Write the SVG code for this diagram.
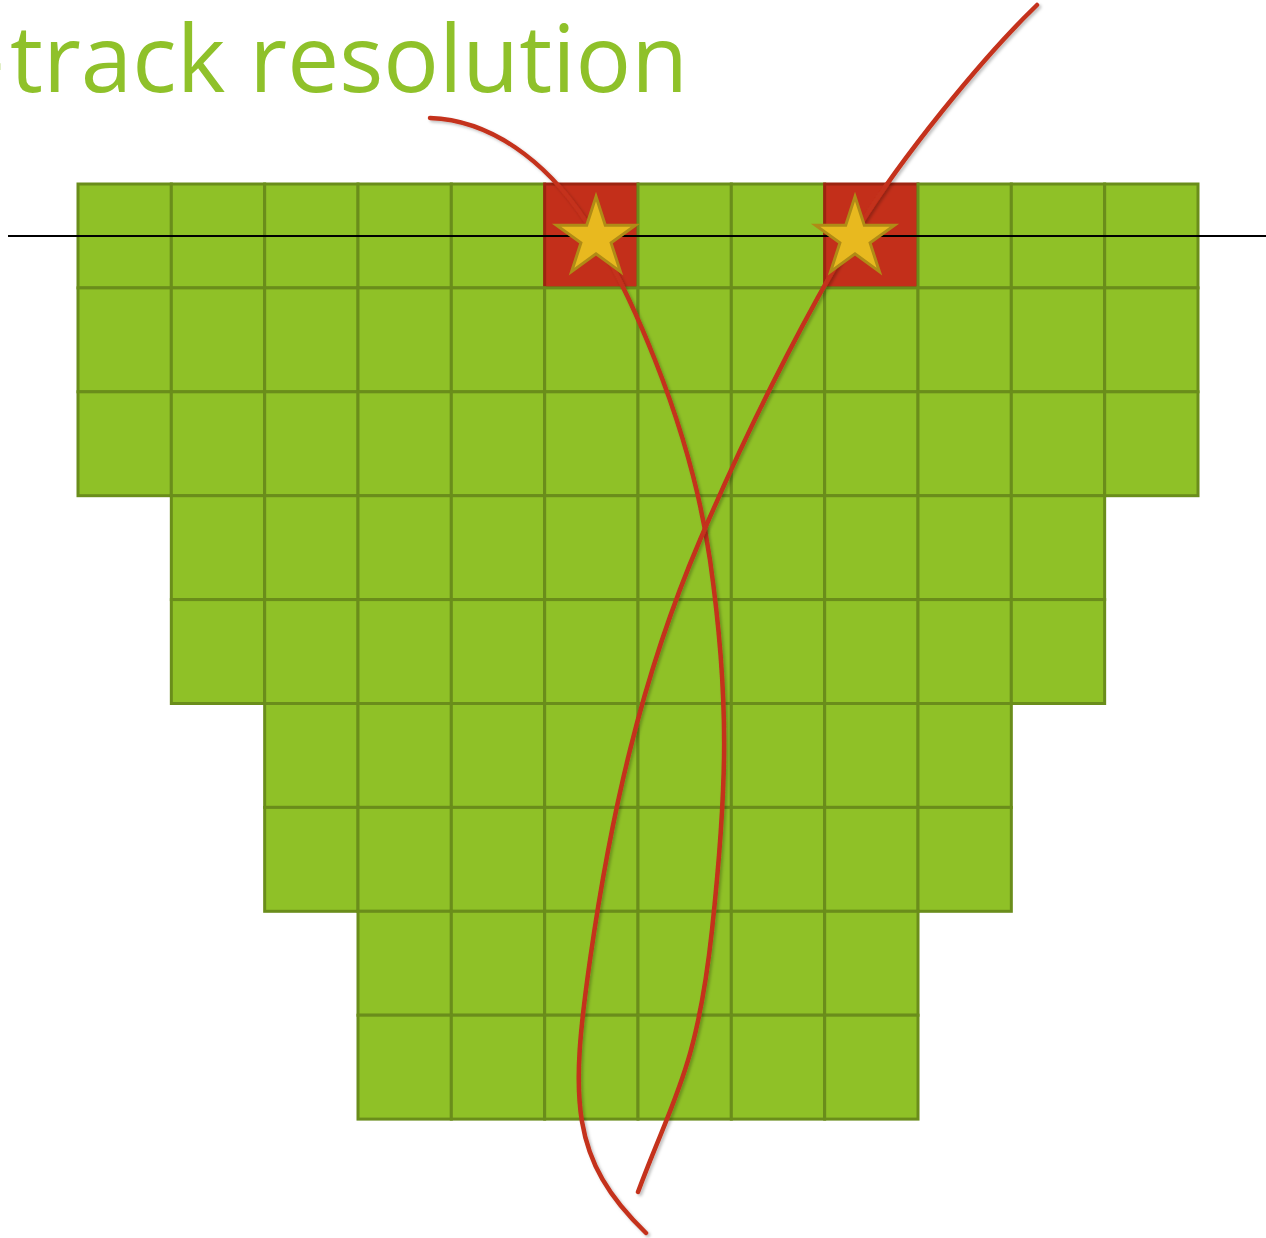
<svg xmlns="http://www.w3.org/2000/svg" width="1266" height="1238" viewBox="0 0 1266 1238">
<style>
.c{fill:#8fc127;stroke:#6a8d1b;stroke-width:3}
.r{fill:#c32f1a;stroke:#9c2410;stroke-width:3}
.t{font-family:"Open Sans","Liberation Sans",sans-serif;font-size:93px;fill:#8fc12a}
.trk{fill:none;stroke:#c4301b;stroke-width:4.5;stroke-linecap:round;filter:url(#sh)}
.st{fill:#e8b91f;stroke:#b08b16;stroke-width:3;stroke-linejoin:miter}
</style>
<defs>
<filter id="sh" x="-10%" y="-10%" width="120%" height="120%">
<feDropShadow dx="2" dy="2" stdDeviation="1.5" flood-color="#000" flood-opacity="0.25"/>
</filter>
<polygon id="star" points="0,-41.5 9.3,-12.8 39.5,-12.8 15.1,4.9 24.4,33.6 0,15.8 -24.4,33.6 -15.1,4.9 -39.5,-12.8 -9.3,-12.8"/>
</defs>
<g id="title">
<text class="t" x="-26" y="92">-</text>
<text class="t" x="10" y="92" textLength="678" lengthAdjust="spacingAndGlyphs">track resolution</text>
</g>
<g id="grid">
<g id="row0">
<rect class="c" x="78" y="184" width="93.33" height="103.9"/>
<rect class="c" x="171.33" y="184" width="93.33" height="103.9"/>
<rect class="c" x="264.67" y="184" width="93.33" height="103.9"/>
<rect class="c" x="358" y="184" width="93.33" height="103.9"/>
<rect class="c" x="451.33" y="184" width="93.33" height="103.9"/>
<rect class="r" x="544.67" y="184" width="93.33" height="103.9"/>
<rect class="c" x="638" y="184" width="93.33" height="103.9"/>
<rect class="c" x="731.33" y="184" width="93.33" height="103.9"/>
<rect class="r" x="824.67" y="184" width="93.33" height="103.9"/>
<rect class="c" x="918" y="184" width="93.33" height="103.9"/>
<rect class="c" x="1011.33" y="184" width="93.33" height="103.9"/>
<rect class="c" x="1104.67" y="184" width="93.33" height="103.9"/>
</g>
<g id="row1">
<rect class="c" x="78" y="287.9" width="93.33" height="103.9"/>
<rect class="c" x="171.33" y="287.9" width="93.33" height="103.9"/>
<rect class="c" x="264.67" y="287.9" width="93.33" height="103.9"/>
<rect class="c" x="358" y="287.9" width="93.33" height="103.9"/>
<rect class="c" x="451.33" y="287.9" width="93.33" height="103.9"/>
<rect class="c" x="544.67" y="287.9" width="93.33" height="103.9"/>
<rect class="c" x="638" y="287.9" width="93.33" height="103.9"/>
<rect class="c" x="731.33" y="287.9" width="93.33" height="103.9"/>
<rect class="c" x="824.67" y="287.9" width="93.33" height="103.9"/>
<rect class="c" x="918" y="287.9" width="93.33" height="103.9"/>
<rect class="c" x="1011.33" y="287.9" width="93.33" height="103.9"/>
<rect class="c" x="1104.67" y="287.9" width="93.33" height="103.9"/>
</g>
<g id="row2">
<rect class="c" x="78" y="391.8" width="93.33" height="103.9"/>
<rect class="c" x="171.33" y="391.8" width="93.33" height="103.9"/>
<rect class="c" x="264.67" y="391.8" width="93.33" height="103.9"/>
<rect class="c" x="358" y="391.8" width="93.33" height="103.9"/>
<rect class="c" x="451.33" y="391.8" width="93.33" height="103.9"/>
<rect class="c" x="544.67" y="391.8" width="93.33" height="103.9"/>
<rect class="c" x="638" y="391.8" width="93.33" height="103.9"/>
<rect class="c" x="731.33" y="391.8" width="93.33" height="103.9"/>
<rect class="c" x="824.67" y="391.8" width="93.33" height="103.9"/>
<rect class="c" x="918" y="391.8" width="93.33" height="103.9"/>
<rect class="c" x="1011.33" y="391.8" width="93.33" height="103.9"/>
<rect class="c" x="1104.67" y="391.8" width="93.33" height="103.9"/>
</g>
<g id="row3">
<rect class="c" x="171.33" y="495.7" width="93.33" height="103.9"/>
<rect class="c" x="264.67" y="495.7" width="93.33" height="103.9"/>
<rect class="c" x="358" y="495.7" width="93.33" height="103.9"/>
<rect class="c" x="451.33" y="495.7" width="93.33" height="103.9"/>
<rect class="c" x="544.67" y="495.7" width="93.33" height="103.9"/>
<rect class="c" x="638" y="495.7" width="93.33" height="103.9"/>
<rect class="c" x="731.33" y="495.7" width="93.33" height="103.9"/>
<rect class="c" x="824.67" y="495.7" width="93.33" height="103.9"/>
<rect class="c" x="918" y="495.7" width="93.33" height="103.9"/>
<rect class="c" x="1011.33" y="495.7" width="93.33" height="103.9"/>
</g>
<g id="row4">
<rect class="c" x="171.33" y="599.6" width="93.33" height="103.9"/>
<rect class="c" x="264.67" y="599.6" width="93.33" height="103.9"/>
<rect class="c" x="358" y="599.6" width="93.33" height="103.9"/>
<rect class="c" x="451.33" y="599.6" width="93.33" height="103.9"/>
<rect class="c" x="544.67" y="599.6" width="93.33" height="103.9"/>
<rect class="c" x="638" y="599.6" width="93.33" height="103.9"/>
<rect class="c" x="731.33" y="599.6" width="93.33" height="103.9"/>
<rect class="c" x="824.67" y="599.6" width="93.33" height="103.9"/>
<rect class="c" x="918" y="599.6" width="93.33" height="103.9"/>
<rect class="c" x="1011.33" y="599.6" width="93.33" height="103.9"/>
</g>
<g id="row5">
<rect class="c" x="264.67" y="703.5" width="93.33" height="103.9"/>
<rect class="c" x="358" y="703.5" width="93.33" height="103.9"/>
<rect class="c" x="451.33" y="703.5" width="93.33" height="103.9"/>
<rect class="c" x="544.67" y="703.5" width="93.33" height="103.9"/>
<rect class="c" x="638" y="703.5" width="93.33" height="103.9"/>
<rect class="c" x="731.33" y="703.5" width="93.33" height="103.9"/>
<rect class="c" x="824.67" y="703.5" width="93.33" height="103.9"/>
<rect class="c" x="918" y="703.5" width="93.33" height="103.9"/>
</g>
<g id="row6">
<rect class="c" x="264.67" y="807.4" width="93.33" height="103.9"/>
<rect class="c" x="358" y="807.4" width="93.33" height="103.9"/>
<rect class="c" x="451.33" y="807.4" width="93.33" height="103.9"/>
<rect class="c" x="544.67" y="807.4" width="93.33" height="103.9"/>
<rect class="c" x="638" y="807.4" width="93.33" height="103.9"/>
<rect class="c" x="731.33" y="807.4" width="93.33" height="103.9"/>
<rect class="c" x="824.67" y="807.4" width="93.33" height="103.9"/>
<rect class="c" x="918" y="807.4" width="93.33" height="103.9"/>
</g>
<g id="row7">
<rect class="c" x="358" y="911.3" width="93.33" height="103.9"/>
<rect class="c" x="451.33" y="911.3" width="93.33" height="103.9"/>
<rect class="c" x="544.67" y="911.3" width="93.33" height="103.9"/>
<rect class="c" x="638" y="911.3" width="93.33" height="103.9"/>
<rect class="c" x="731.33" y="911.3" width="93.33" height="103.9"/>
<rect class="c" x="824.67" y="911.3" width="93.33" height="103.9"/>
</g>
<g id="row8">
<rect class="c" x="358" y="1015.2" width="93.33" height="103.9"/>
<rect class="c" x="451.33" y="1015.2" width="93.33" height="103.9"/>
<rect class="c" x="544.67" y="1015.2" width="93.33" height="103.9"/>
<rect class="c" x="638" y="1015.2" width="93.33" height="103.9"/>
<rect class="c" x="731.33" y="1015.2" width="93.33" height="103.9"/>
<rect class="c" x="824.67" y="1015.2" width="93.33" height="103.9"/>
</g>
</g>
<g id="connectors">
<line x1="8" y1="236" x2="1266" y2="236" stroke="#000" stroke-width="2"/>
<path class="trk" d="M430,118 C490,120 545,160 585,220 S690,420 710,560 S727,790 712,930 S672,1100 638,1192"/>
<path class="trk" d="M1037,5 C980,60 900,160 860,225 S760,400 700,540 S610,820 590,960 S570,1160 646,1233"/>
</g>
<g id="star1"><use href="#star" class="st" x="596" y="238"/></g>
<g id="star2"><use href="#star" class="st" x="855" y="238"/></g>
</svg>
